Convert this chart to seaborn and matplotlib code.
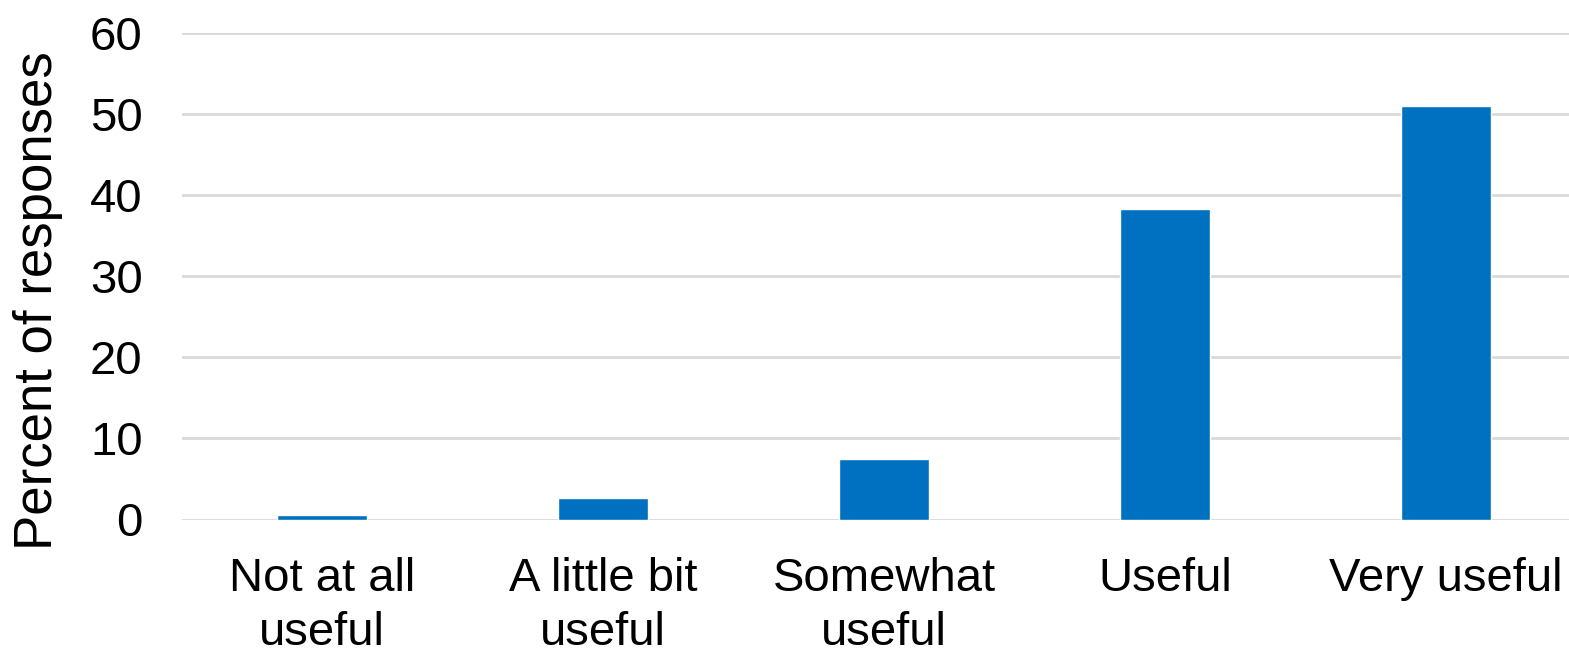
import matplotlib
matplotlib.use("Agg")
import matplotlib.pyplot as plt
import seaborn as sns
import pandas as pd

# valores
categorias = ["Not at all\nuseful", "A little bit\nuseful", "Somewhat\nuseful", "Useful", "Very useful"]
percentuais = [0.6, 2.6, 7.4, 38.2, 51.0]
ticks_y = [0, 10, 20, 30, 40, 50, 60]

sns.set_theme(style="white")
plt.rcParams['font.family'] = ['Liberation Sans', 'DejaVu Sans']

df = pd.DataFrame({"categoria": categorias, "percentual": percentuais})

fig = plt.figure(figsize=(15.69, 6.5), dpi=100)
ax = fig.add_axes([181.5 / 1569, 130.5 / 650, 1405 / 1569, 0.7492])

sns.barplot(data=df, x="categoria", y="percentual", color="#0070C0",
            width=0.317, saturation=1, ax=ax, zorder=3)

ax.set_ylim(0, 60)
ax.set_yticks(ticks_y)
ax.yaxis.grid(True, color="#d9d9d9", linewidth=2, zorder=0)
ax.set_axisbelow(True)
for s in ax.spines.values():
    s.set_visible(False)

ax.tick_params(axis="both", length=0, labelsize=34, colors="black")
ax.tick_params(axis="y", pad=28)
ax.tick_params(axis="x", pad=27)
for t in ax.get_xticklabels():
    t.set_linespacing(1.3)
ax.set_xlabel("")
ax.set_ylabel("Percent of responses", fontsize=38, color="black")
ax.yaxis.set_label_coords(-0.084, 0.45)

fig.savefig("out.png", dpi=100)
